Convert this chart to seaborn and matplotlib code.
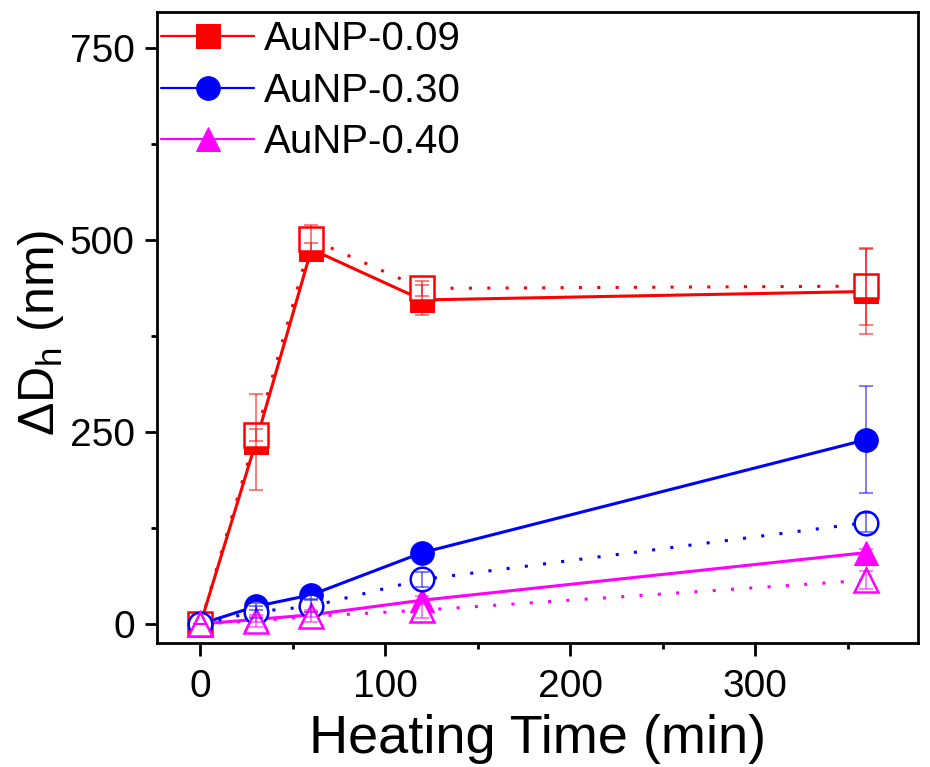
import numpy as np
import pandas as pd
import matplotlib
matplotlib.use("Agg")
import matplotlib.pyplot as plt
import seaborn as sns
from matplotlib.ticker import MultipleLocator

# heating time (min)
time = [0, 30, 60, 120, 360]

# filled symbols (solid lines)
red_fill = [0, 237, 488, 422, 433]
blue_fill = [0, 23, 38, 93, 240]
mag_fill = [0, 6, 12, 31, 93]
red_fill_err = [0, 62, 8, 20, 55]
blue_fill_err = [0, 5, 5, 5, 70]
mag_fill_err = [0, 3, 3, 5, 5]

# open symbols (dotted lines)
red_open = [0, 246, 501, 437, 440]
blue_open = [0, 16, 23, 58, 132]
mag_open = [0, 4, 10, 18, 57]
red_open_err = [0, 8, 18, 10, 50]
blue_open_err = [0, 8, 8, 10, 12]
mag_open_err = [0, 8, 8, 10, 12]

labels = ["AuNP-0.09", "AuNP-0.30", "AuNP-0.40"]
colors = ["#ff0000", "#0000ff", "#ff00ff"]
markers = ["s", "o", "^"]

sns.set_style("ticks")
plt.rcParams['font.family'] = ['Liberation Sans', 'DejaVu Sans']
plt.rcParams['mathtext.fontset'] = 'custom'
plt.rcParams['mathtext.rm'] = 'Liberation Sans'
plt.rcParams['mathtext.it'] = 'Liberation Sans'
for k in ['text.color', 'axes.labelcolor', 'xtick.color', 'ytick.color']:
    plt.rcParams[k] = 'black'

fig = plt.figure(figsize=(9.3, 7.67), dpi=100)
ax = fig.add_axes([0.1688, 0.1617, 0.8182, 0.8227])

fills = [red_fill, blue_fill, mag_fill]
opens = [red_open, blue_open, mag_open]
fill_errs = [red_fill_err, blue_fill_err, mag_fill_err]
open_errs = [red_open_err, blue_open_err, mag_open_err]

for i in range(3):
    sns.lineplot(x=time, y=fills[i], ax=ax, color=colors[i], marker=markers[i],
                 markersize=17, markeredgecolor=colors[i], linewidth=2.2,
                 label=labels[i], zorder=3)
for i in range(3):
    sns.lineplot(x=time, y=opens[i], ax=ax, color=colors[i], marker=markers[i],
                 markersize=17, markerfacecolor="white", markeredgecolor=colors[i],
                 markeredgewidth=1.8, linewidth=2.2, linestyle=(0, (1, 5)),
                 zorder=4)
for i in range(3):
    ax.errorbar(time, fills[i], yerr=fill_errs[i], fmt="none", ecolor=colors[i],
                alpha=0.6, elinewidth=1.2, capsize=5, capthick=1.2, zorder=5)
    ax.errorbar(time, opens[i], yerr=open_errs[i], fmt="none", ecolor=colors[i],
                alpha=0.6, elinewidth=1.2, capsize=5, capthick=1.2, zorder=5)

ax.set_xlim(-23.5, 388)
ax.set_ylim(-24.7, 797)
ax.xaxis.set_major_locator(MultipleLocator(100))
ax.xaxis.set_minor_locator(MultipleLocator(50))
ax.yaxis.set_major_locator(MultipleLocator(250))
ax.yaxis.set_minor_locator(MultipleLocator(125))
ax.tick_params(which="major", length=9, width=2, labelsize=28, direction="out")
ax.tick_params(axis="x", which="major", pad=10)
ax.tick_params(axis="y", which="major", pad=7)
ax.tick_params(which="minor", length=4, width=2, direction="out")
for s in ax.spines.values():
    s.set_linewidth(2)
    s.set_color("black")

ax.set_xlabel("Heating Time (min)", fontsize=39, labelpad=6)
ax.set_ylabel("ΔD$_\\mathrm{h}$ (nm)", fontsize=36)
ax.yaxis.set_label_coords(-0.12, 0.491)

leg = ax.legend(loc="upper left", frameon=False, fontsize=29, handlelength=2.3,
                borderaxespad=0.0, borderpad=0.2, labelspacing=0.34,
                handletextpad=0.25, markerscale=1.0,
                bbox_to_anchor=(-0.005, 1.0))
for h in leg.get_lines():
    h.set_linewidth(1.6)

plt.savefig("out.png", dpi=100)
